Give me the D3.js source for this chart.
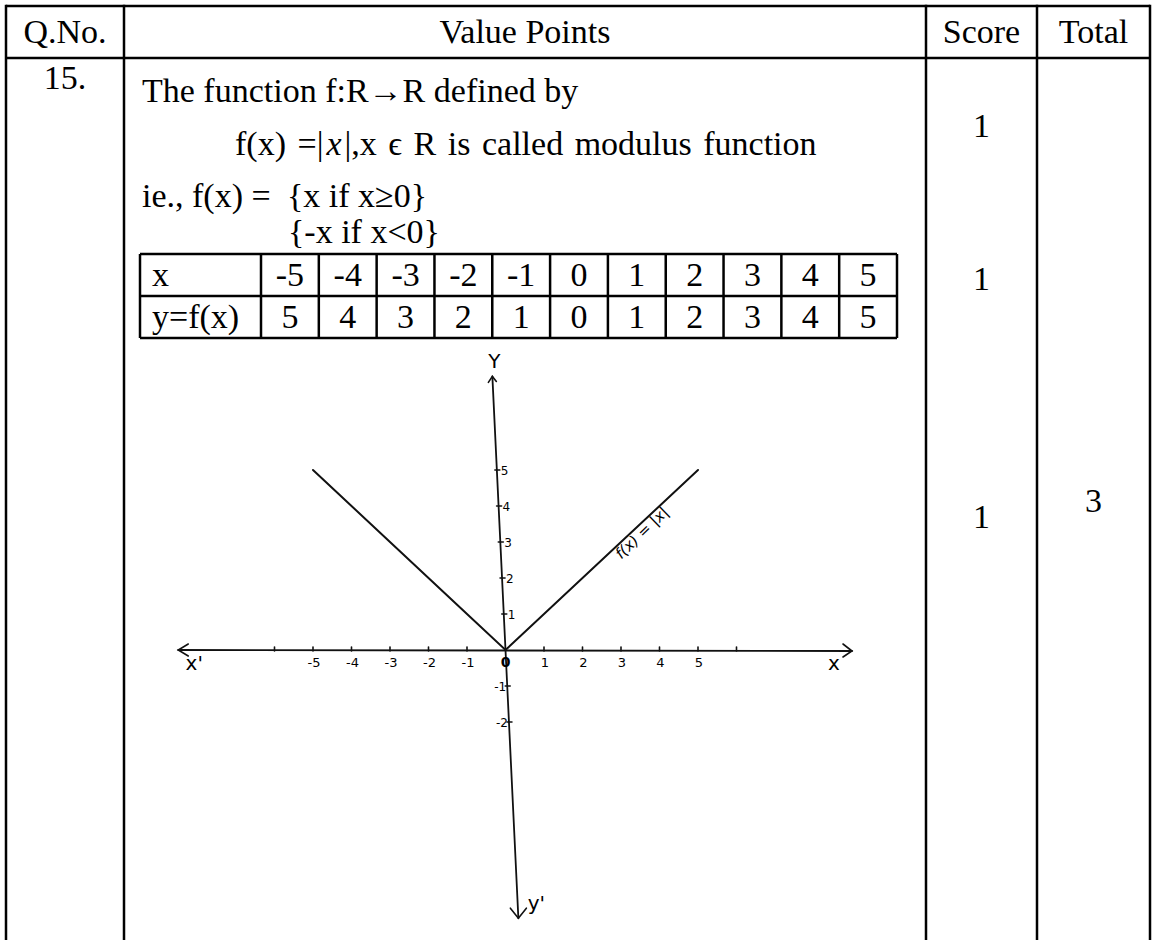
<!DOCTYPE html>
<html><head><meta charset="utf-8">
<script src="https://cdn.jsdelivr.net/npm/d3@7"></script>
<style>
html,body{margin:0;padding:0;background:#fff;}
svg{display:block;}
</style></head>
<body>
<svg id="c" width="1153" height="940"></svg>
<script>
// ---------------- data ----------------
const headers = ["Q.No.", "Value Points", "Score", "Total"];
const questionNo = "15.";
const tableRowLabels = ["x", "y=f(x)"];
const xValues = [-5, -4, -3, -2, -1, 0, 1, 2, 3, 4, 5];
const yValues = [5, 4, 3, 2, 1, 0, 1, 2, 3, 4, 5];
const scores = ["1", "1", "1"];
const totalScore = "3";
const xTickLabels = ["-5", "-4", "-3", "-2", "-1", "0", "1", "2", "3", "4", "5"];
const xTickValues = [-5, -4, -3, -2, -1, 0, 1, 2, 3, 4, 5];
const xExtraTicks = [-6, 6];
const yTickValues = [5, 4, 3, 2, 1, -1, -2];
const yTickLabels = ["5", "4", "3", "2", "1", "-1", "-2"];
const curveLabel = "f(x) = |x|";

// ---------------- drawing ----------------
const svg = d3.select("#c");
const SERIF = "'Liberation Serif','Times New Roman',serif";
const HAND = "'DejaVu Sans',sans-serif";
const FS = 34;

const colX = [6, 124, 926, 1037, 1150];
const headTop = 6, headBot = 58, H = 940;

const g = svg.append("g");
// outer frame
g.append("line").attr("x1", colX[0]).attr("x2", colX[4]).attr("y1", headTop).attr("y2", headTop)
  .attr("stroke", "#000").attr("stroke-width", 2.5);
g.append("line").attr("x1", colX[0]).attr("x2", colX[4]).attr("y1", headBot).attr("y2", headBot)
  .attr("stroke", "#000").attr("stroke-width", 2.5);
colX.forEach(x => g.append("line").attr("x1", x).attr("x2", x).attr("y1", headTop - 1.2).attr("y2", H)
  .attr("stroke", "#000").attr("stroke-width", 2.5));

function txt(x, y, s, anchor, size, fam) {
  return g.append("text").attr("x", x).attr("y", y).attr("text-anchor", anchor || "start")
    .attr("font-family", fam || SERIF).attr("font-size", size || FS).attr("fill", "#000").text(s);
}
// headers
headers.forEach((h, i) => txt((colX[i] + colX[i + 1]) / 2, 43, h, "middle"));
txt((colX[0] + colX[1]) / 2, 89, questionNo, "middle");

// value point text
txt(142, 102, "The function f:R\u2192R defined by");
const t2 = txt(235, 155, "f(x) =|").attr("word-spacing", 3);
t2.append("tspan").attr("font-style", "italic").attr("dx", 3).text("x");
t2.append("tspan").attr("dx", 3).text("|,x \u03F5 R is called modulus function");
txt(142, 207, "ie., f(x) =");
txt(287, 207, "{x if x\u22650}");
txt(288, 243, "{-x if x<0}");

// scores
const scoreY = [137, 290, 528];
scores.forEach((s, i) => txt((colX[2] + colX[3]) / 2, scoreY[i], s, "middle"));
txt((colX[3] + colX[4]) / 2, 512, totalScore, "middle");

// ---------------- value table ----------------
const tLeft = 140, tLabelRight = 261, tRight = 897, tTop = 254, rowH = 42;
const band = d3.scaleBand().domain(xValues.map(String)).range([tLabelRight, tRight]).paddingInner(0).paddingOuter(0);
const tg = g.append("g");
const tBot = tTop + 2 * rowH;
[tTop, tTop + rowH, tBot].forEach(y => tg.append("line").attr("x1", tLeft).attr("x2", tRight)
  .attr("y1", y).attr("y2", y).attr("stroke", "#000").attr("stroke-width", 2.5));
[tLeft, tLabelRight].concat(xValues.map(v => band(String(v)) + band.bandwidth())).forEach(x =>
  tg.append("line").attr("x1", x).attr("x2", x).attr("y1", tTop).attr("y2", tBot)
    .attr("stroke", "#000").attr("stroke-width", 2.5));
tableRowLabels.forEach((l, i) => txt(tLeft + 12, tTop + i * rowH + 32, l));
xValues.forEach(v => txt(band(String(v)) + band.bandwidth() / 2, tTop + 32, String(v), "middle"));
yValues.forEach((v, i) => txt(band(String(xValues[i])) + band.bandwidth() / 2, tTop + rowH + 32, String(v), "middle"));

// ---------------- graph ----------------
const xs = d3.scaleLinear().domain([-5, 5]).range([313, 698]);
const ys = d3.scaleLinear().domain([0, 5]).range([650, 470]);
const tilt = 0.048;
const axX = py => xs(0) + (py - ys(0)) * tilt;
const gg = g.append("g").attr("stroke", "#111").attr("fill", "none").attr("stroke-linecap", "round");

// x axis
const xa0 = xs(-8.5), xa1 = xs(9.0), y0 = ys(0);
gg.append("line").attr("x1", xa0).attr("x2", xa1).attr("y1", y0).attr("y2", y0 + 1).attr("stroke-width", 1.8);
gg.append("path").attr("d", `M${xa0 + 10},${y0 - 6}L${xa0},${y0}L${xa0 + 10},${y0 + 6}`).attr("stroke-width", 1.6);
gg.append("path").attr("d", `M${xa1 - 9},${y0 - 6}L${xa1},${y0 + 1}L${xa1 - 9},${y0 + 7}`).attr("stroke-width", 1.6);

// y axis
const yTopPx = ys(7.6), yBotPx = ys(-7.45);
gg.append("line").attr("x1", axX(yTopPx)).attr("y1", yTopPx).attr("x2", axX(yBotPx)).attr("y2", yBotPx).attr("stroke-width", 1.8);
gg.append("path").attr("d", `M${axX(yTopPx) - 4},${yTopPx + 6}L${axX(yTopPx)},${yTopPx}L${axX(yTopPx) + 4},${yTopPx + 5}`).attr("stroke-width", 1.6);
gg.append("path").attr("d", `M${axX(yBotPx) - 8},${yBotPx - 10}L${axX(yBotPx)},${yBotPx}L${axX(yBotPx) + 8},${yBotPx - 10}`).attr("stroke-width", 1.6);

// x ticks
xTickValues.concat(xExtraTicks).filter(v => v !== 0).forEach(v =>
  gg.append("line").attr("x1", xs(v)).attr("x2", xs(v)).attr("y1", y0 - 3).attr("y2", y0 + 1).attr("stroke-width", 1.6));
xTickValues.forEach((v, i) => {
  const t = txt(xs(v) + (v === 0 ? 0 : 1), y0 + 17, xTickLabels[i], "middle", 13, HAND);
  if (v === 0) t.attr("font-weight", "bold").attr("font-size", 14);
});

// y ticks
yTickValues.forEach((v, i) => {
  const py = ys(v), px = axX(py);
  gg.append("line").attr("x1", px - 2).attr("x2", px + 3).attr("y1", py).attr("y2", py).attr("stroke-width", 1.6);
  if (v > 0) txt(px + 4, py + 5, yTickLabels[i], "start", 12, HAND);
  else txt(px - 1, py + 5, yTickLabels[i], "end", 12, HAND);
});

// axis names
txt(axX(yTopPx) + 2, yTopPx - 8, "Y", "middle", 20, HAND);
txt(axX(yBotPx) + 18, yBotPx - 8, "y'", "middle", 20, HAND);
txt(xa0 + 16, y0 + 20, "x'", "middle", 20, HAND);
txt(xa1 - 18, y0 + 20, "x", "middle", 20, HAND);

// the function graph
const pts = xValues.map((x, i) => ({x: x, y: yValues[i]}));
const line = d3.line().x(d => xs(d.x)).y(d => ys(d.y));
gg.append("path").datum(pts).attr("d", line).attr("stroke-width", 2);

// curve label
const lx = xs(3.4) + 9, ly = ys(3.4) + 9;
g.append("text").attr("transform", `translate(${lx},${ly}) rotate(-44)`).attr("text-anchor", "middle")
  .attr("font-family", HAND).attr("font-size", 15).attr("font-style", "italic").text(curveLabel);
</script>
</body></html>
